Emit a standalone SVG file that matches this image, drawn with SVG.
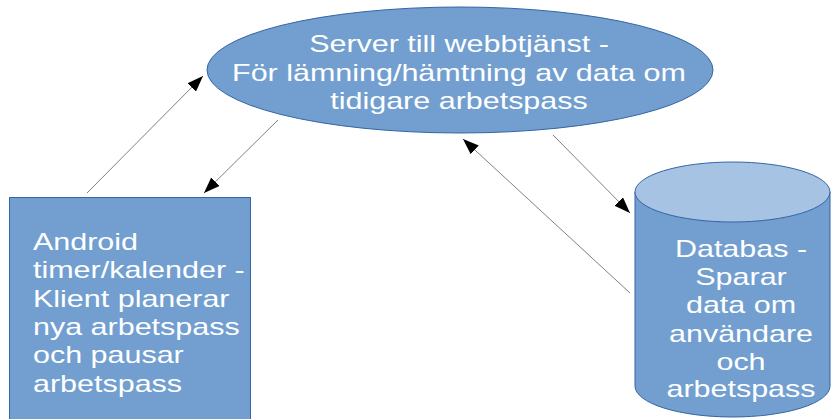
<svg xmlns="http://www.w3.org/2000/svg" width="831" height="419" viewBox="0 0 831 419">
  <defs>
    <marker id="arrow" viewBox="0 0 16 12" refX="16" refY="6" markerWidth="16" markerHeight="12" markerUnits="userSpaceOnUse" orient="auto">
      <path d="M0,0 L16,6 L0,12 Z" fill="#000"/>
    </marker>
    <style>
      .shape { fill: #729fcf; stroke: #3465a4; stroke-width: 1; }
      .cap { fill: #a7c3e4; stroke: #3465a4; stroke-width: 1; }
      .label { font-family: "Liberation Sans", Arial, sans-serif; font-size: 24px; fill: #ffffff; }
      .mid { text-anchor: middle; }
      .edge { stroke: #808080; stroke-width: 1; fill: none; marker-end: url(#arrow); }
    </style>
  </defs>
  <rect width="831" height="419" fill="#ffffff"/>

  <g id="connectors">
    <line class="edge" x1="87" y1="193" x2="203" y2="76"/>
    <line class="edge" x1="278" y1="120" x2="204" y2="193"/>
    <line class="edge" x1="553" y1="135" x2="630" y2="213"/>
    <line class="edge" x1="630" y1="293" x2="463" y2="139"/>
  </g>

  <g id="server">
    <ellipse class="shape" cx="460" cy="70" rx="253" ry="63"/>
    <g class="label mid">
      <text transform="matrix(1.27 0 0 1 459 52)">Server till webbtjänst -</text>
      <text transform="matrix(1.27 0 0 1 459 81)">För lämning/hämtning av data om</text>
      <text transform="matrix(1.27 0 0 1 459 109)">tidigare arbetspass</text>
    </g>
  </g>

  <g id="android">
    <rect class="shape" x="9.5" y="197.5" width="241" height="240"/>
    <g class="label">
      <text transform="matrix(1.27 0 0 1 33 250)">Android</text>
      <text transform="matrix(1.27 0 0 1 33 278)">timer/kalender -</text>
      <text transform="matrix(1.27 0 0 1 33 307)">Klient planerar</text>
      <text transform="matrix(1.27 0 0 1 33 335)">nya arbetspass</text>
      <text transform="matrix(1.27 0 0 1 33 363)">och pausar</text>
      <text transform="matrix(1.27 0 0 1 33 392)">arbetspass</text>
    </g>
  </g>

  <g id="databas">
    <path class="shape" d="M635,192 L635,386 A97.5,31 0 0 0 830,386 L830,192 Z"/>
    <ellipse class="cap" cx="732.5" cy="192" rx="97.5" ry="30"/>
    <g class="label mid">
      <text transform="matrix(1.27 0 0 1 741 257)">Databas -</text>
      <text transform="matrix(1.27 0 0 1 741 285)">Sparar</text>
      <text transform="matrix(1.27 0 0 1 741 313)">data om</text>
      <text transform="matrix(1.27 0 0 1 741 342)">användare</text>
      <text transform="matrix(1.27 0 0 1 741 370)">och</text>
      <text transform="matrix(1.27 0 0 1 741 397)">arbetspass</text>
    </g>
  </g>
</svg>
